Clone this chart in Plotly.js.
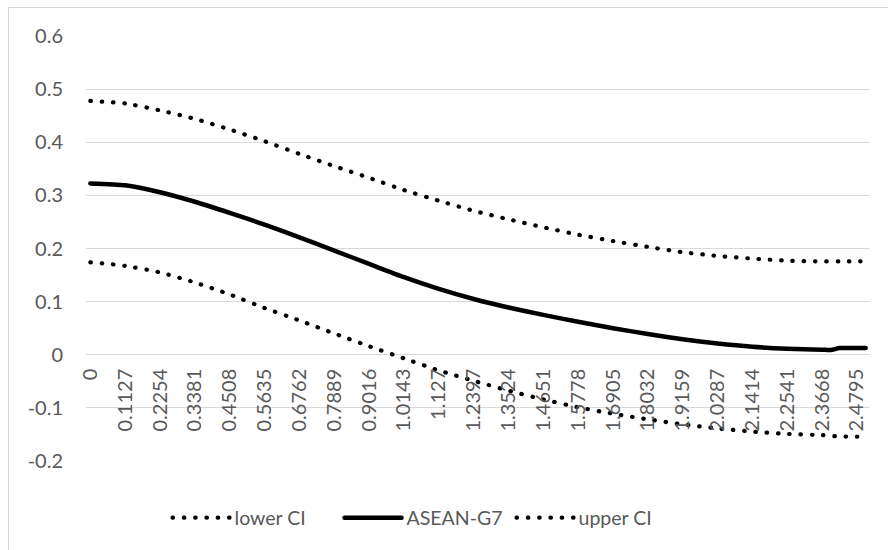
<!DOCTYPE html>
<html>
<head>
<meta charset="utf-8">
<script src="https://cdn.plot.ly/plotly-3.0.1.min.js"></script>
<style>
  html, body { margin: 0; padding: 0; background: #fff; overflow: hidden; }
  #chart { position: absolute; left: 0; top: 0; width: 888px; height: 550px; }
  #frame { position: absolute; left: 8px; top: 7px; width: 1000px; height: 1000px;
           border-left: 1px solid #d9d9d9; border-top: 1px solid #d9d9d9; pointer-events: none; }
  .js-line { stroke-linecap: round; stroke-linejoin: round; }
</style>
</head>
<body>
<div id="chart"></div>
<div id="frame"></div>
<script>
// x positions (categories) of the plotted points
const xValues = [0, 0.1127, 0.2254, 0.3381, 0.4508, 0.5635, 0.6762, 0.7889, 0.9016, 1.0143,
  1.127, 1.2397, 1.3524, 1.4651, 1.5778, 1.6905, 1.8032, 1.9159, 2.0287, 2.1414,
  2.2541, 2.3668, 2.3950, 2.4231, 2.4795, 2.5077];

// tick labels shown on the category axis
const xTickValues = [0, 0.1127, 0.2254, 0.3381, 0.4508, 0.5635, 0.6762, 0.7889, 0.9016, 1.0143,
  1.127, 1.2397, 1.3524, 1.4651, 1.5778, 1.6905, 1.8032, 1.9159, 2.0287, 2.1414,
  2.2541, 2.3668, 2.4795];
const xTickLabels = ["0", "0.1127", "0.2254", "0.3381", "0.4508", "0.5635", "0.6762", "0.7889",
  "0.9016", "1.0143", "1.127", "1.2397", "1.3524", "1.4651", "1.5778", "1.6905", "1.8032",
  "1.9159", "2.0287", "2.1414", "2.2541", "2.3668", "2.4795"];

// value axis ticks
const yTickValues = [-0.2, -0.1, 0, 0.1, 0.2, 0.3, 0.4, 0.5, 0.6];
const yTickLabels = ["-0.2", "-0.1", "0", "0.1", "0.2", "0.3", "0.4", "0.5", "0.6"];

const lowerCI = [0.174, 0.1673, 0.155, 0.136, 0.1135, 0.088, 0.0645, 0.040, 0.016, -0.0068,
  -0.0295, -0.049, -0.0675, -0.084, -0.099, -0.111, -0.1217, -0.131, -0.1386, -0.1448,
  -0.149, -0.1513, -0.1525, -0.1538, -0.1543, -0.1547];
const aseanG7 = [0.3225, 0.319, 0.306, 0.288, 0.267, 0.245, 0.221, 0.196, 0.171, 0.146,
  0.124, 0.105, 0.089, 0.075, 0.062, 0.050, 0.039, 0.029, 0.021, 0.015,
  0.0115, 0.0095, 0.009, 0.0125, 0.0125, 0.0125];
const upperCI = [0.478, 0.473, 0.460, 0.444, 0.424, 0.402, 0.378, 0.355, 0.333, 0.310,
  0.290, 0.271, 0.255, 0.240, 0.226, 0.214, 0.203, 0.193, 0.186, 0.181,
  0.177, 0.1757, 0.1756, 0.1756, 0.1759, 0.176];

const seriesNames = ["lower CI", "ASEAN-G7", "upper CI"];

const FONT = "Lato, 'Open Sans', sans-serif";
const TEXT = "#595959";
const dotted = { color: "#000", width: 4.2, dash: "0.5px,10.8px", shape: "spline", smoothing: 0.6 };

const traces = [
  { x: xValues, y: lowerCI, name: seriesNames[0], type: "scatter", mode: "lines", line: dotted },
  { x: xValues, y: aseanG7, name: seriesNames[1], type: "scatter", mode: "lines",
    line: { color: "#000", width: 4.5, shape: "spline", smoothing: 0.6 } },
  { x: xValues, y: upperCI, name: seriesNames[2], type: "scatter", mode: "lines", line: dotted }
];

const step = 0.028176;
const layout = {
  width: 888, height: 550,
  margin: { l: 86, r: 18, t: 36, b: 87.3, pad: 0 },
  paper_bgcolor: "#fff", plot_bgcolor: "#fff",
  font: { family: FONT, color: TEXT, size: 20 },
  showlegend: true,
  legend: {
    orientation: "h", x: 0.104, xanchor: "left", y: -0.134, yanchor: "middle",
    font: { family: FONT, color: TEXT, size: 19.5 }, itemwidth: 57,
    entrywidth: 100, entrywidthmode: "pixels", bgcolor: "rgba(0,0,0,0)"
  },
  xaxis: {
    range: [-step / 2, 89 * step + step / 2],
    anchor: "free", position: 0.25,
    tickmode: "array", tickvals: xTickValues, ticktext: xTickLabels,
    tickangle: -90, ticks: "", showgrid: false, zeroline: false, showline: false,
    tickfont: { family: FONT, color: TEXT, size: 20 }, ticklabelstandoff: 9, fixedrange: true
  },
  yaxis: {
    range: [-0.2, 0.6], tickmode: "array", tickvals: yTickValues, ticktext: yTickLabels,
    showgrid: true, gridcolor: "#d9d9d9", gridwidth: 1,
    zeroline: false, showline: false, ticks: "",
    tickfont: { family: FONT, color: TEXT, size: 20 }, ticklabelstandoff: 22, fixedrange: true
  }
};

Plotly.newPlot("chart", traces, layout, { displayModeBar: false, staticPlot: true });
</script>
</body>
</html>
